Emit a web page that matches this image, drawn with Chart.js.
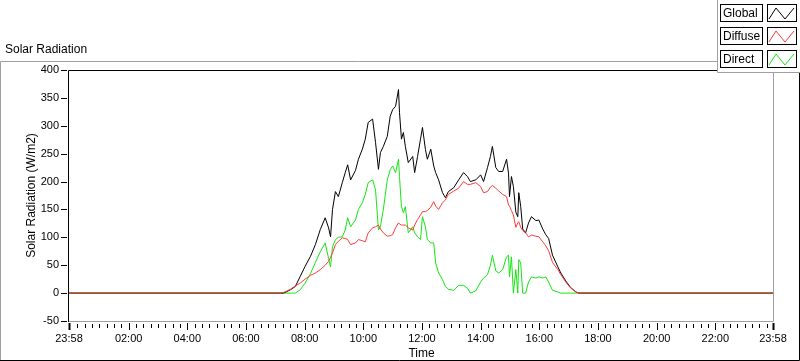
<!DOCTYPE html>
<html>
<head>
<meta charset="utf-8">
<script src="https://cdn.jsdelivr.net/npm/chart.js@4.4.1/dist/chart.umd.min.js"></script>
<style>
html, body { margin: 0; padding: 0; background: #fff; }
#wrap { width: 800px; height: 361px; position: relative; }
</style>
</head>
<body>
<div id="wrap"><canvas id="solar"></canvas></div>
<script>
// time of day for each reading (first one is 23:58 of the day before)
const times = ["23:58",
  "07:10","07:16","07:22","07:31","07:41","07:51","08:01","08:12","08:22","08:32",
  "08:42","08:49","08:53","08:57","09:03","09:09","09:17","09:23","09:28","09:34",
  "09:44","09:50","09:58","10:04","10:10","10:19","10:25","10:31","10:35","10:41",
  "10:49","10:55","11:00","11:06","11:12","11:14","11:18","11:22","11:26","11:32",
  "11:41","11:45","11:51","11:57","12:01","12:07","12:11","12:18","12:24","12:28",
  "12:34","12:42","12:48","12:54","13:05","13:15","13:25","13:33","13:39","13:50",
  "14:00","14:06","14:14","14:20","14:24","14:31","14:37","14:45","14:53","14:57",
  "14:59","15:03","15:07","15:12","15:16","15:18","15:22","15:26","15:32","15:38",
  "15:44","15:53","15:59","16:07","16:13","16:19","16:27","16:38","16:44","16:54",
  "17:04","17:15","17:21",
  "23:58"];

const globalRad = [0,
  0,0,2,6,12,30,48,66,87,114,
  135,117,101,150,182,173,198,216,230,203,
  220,240,258,276,306,312,270,222,252,263,
  281,317,329,335,365,324,276,288,263,234,
  245,216,245,276,297,258,240,258,228,216,
  203,180,171,182,189,203,216,209,200,203,
  212,200,225,245,263,225,218,218,240,215,
  173,209,191,145,137,180,155,115,108,126,
  137,130,131,115,105,98,68,47,36,22,
  10,2,0,
  0];

const diffuseRad = [0,
  0,1,3,7,13,18,25,32,36,42,
  50,57,64,72,87,93,99,98,96,87,
  90,96,94,92,108,117,119,122,115,108,
  102,103,105,117,126,124,122,122,122,117,
  113,122,132,140,146,146,148,154,164,156,
  150,162,167,177,183,188,200,195,195,198,
  191,180,182,190,193,188,183,177,173,158,
  156,148,140,118,126,128,118,112,108,101,
  104,102,101,92,85,76,55,42,33,20,
  9,2,0,
  0];

const directRad = [0,
  0,0,0,0,0,6,18,35,55,74,
  90,62,47,83,96,100,101,113,135,119,
  131,150,162,177,198,203,185,113,119,150,
  203,221,228,216,240,209,155,144,155,108,
  119,108,101,96,137,119,96,90,90,54,
  36,24,12,7,5,14,14,9,0,4,
  20,27,33,50,68,40,36,42,65,68,
  29,65,0,42,0,60,54,0,0,20,
  29,27,29,27,29,20,5,2,0,0,
  0,0,0,
  0];

const yTicks = [-50, 0, 50, 100, 150, 200, 250, 300, 350, 400];
const xTickMinutes = [-2, 120, 240, 360, 480, 600, 720, 840, 960, 1080, 1200, 1320, 1438];
const xTickLabels = ["23:58","02:00","04:00","06:00","08:00","10:00","12:00","14:00","16:00","18:00","20:00","22:00","23:58"];

function toMinutes(t, i) {
  const p = t.split(":");
  let m = +p[0] * 60 + +p[1];
  if (i === 0 && m > 720) m -= 1440;
  return m;
}
const pts = vals => vals.map((v, i) => ({ x: toMinutes(times[i], i), y: v }));

const font = "'Liberation Sans', Arial, sans-serif";

const frame = {
  id: "frame",
  beforeDraw(chart) {
    const ctx = chart.ctx;
    ctx.save();
    ctx.fillStyle = "#fff";
    ctx.fillRect(0, 0, chart.width, chart.height);
    ctx.restore();
  },
  afterDraw(chart) {
    const ctx = chart.ctx, a = chart.chartArea;
    const xs = chart.scales.x, ys = chart.scales.y;
    ctx.save();
    ctx.lineWidth = 1;

    // outer panel
    ctx.strokeStyle = "#a0a0a0";
    ctx.beginPath();
    ctx.moveTo(717, 61.5); ctx.lineTo(0.5, 61.5); ctx.lineTo(0.5, 361);
    ctx.stroke();
    ctx.strokeStyle = "#000";
    ctx.beginPath();
    ctx.moveTo(0, 360.5); ctx.lineTo(799.5, 360.5); ctx.lineTo(799.5, 72);
    ctx.stroke();

    // plot frame
    ctx.strokeStyle = "#a0a0a0";
    ctx.beginPath();
    ctx.moveTo(a.left, a.bottom + 0.5); ctx.lineTo(a.right + 0.5, a.bottom + 0.5); ctx.lineTo(a.right + 0.5, a.top);
    ctx.stroke();
    ctx.strokeStyle = "#000";
    ctx.beginPath();
    ctx.moveTo(a.right + 0.5, a.top + 0.5); ctx.lineTo(a.left - 0.5, a.top + 0.5); ctx.lineTo(a.left - 0.5, a.bottom + 1);
    ctx.stroke();

    // y ticks
    ys.ticks.forEach(t => {
      const py = Math.round(ys.getPixelForValue(t.value)) + 0.5;
      ctx.beginPath(); ctx.moveTo(a.left - 8, py); ctx.lineTo(a.left - 2, py); ctx.stroke();
    });
    // x ticks: major every 2h, minor every 15 min
    for (let m = 15; m < 1438; m += 15) {
      if (m % 120 === 0) continue;
      const px = Math.round(xs.getPixelForValue(m)) + 0.5;
      ctx.beginPath(); ctx.moveTo(px, a.bottom + 3); ctx.lineTo(px, a.bottom + 7); ctx.stroke();
    }
    xTickMinutes.forEach((m, i) => {
      const px = Math.round(xs.getPixelForValue(m)) + 0.5;
      ctx.lineWidth = (i === 0 || i === xTickMinutes.length - 1) ? 2 : 1;
      ctx.beginPath(); ctx.moveTo(px, a.bottom + 2); ctx.lineTo(px, a.bottom + 9); ctx.stroke();
    });
    ctx.lineWidth = 1;

    // titles
    ctx.fillStyle = "#000";
    ctx.font = "12px " + font;
    ctx.textBaseline = "middle";
    ctx.textAlign = "left";
    ctx.fillText("Solar Radiation", 5, 50);
    ctx.textAlign = "center";
    ctx.fillText("Time", (a.left + a.right) / 2 + 0.5, 354);
    ctx.save();
    ctx.translate(32, (a.top + a.bottom) / 2);
    ctx.rotate(-Math.PI / 2);
    ctx.fillText("Solar Radiation (W/m2)", 0, 0);
    ctx.restore();

    // legend panel
    ctx.fillStyle = "#fff";
    ctx.fillRect(718, 0, 82, 72);
    ctx.strokeStyle = "#a0a0a0";
    ctx.beginPath(); ctx.moveTo(717.5, 0); ctx.lineTo(717.5, 72.5); ctx.lineTo(800, 72.5); ctx.stroke();
    chart.data.datasets.forEach((ds, i) => {
      const top = 4 + i * 23;
      ctx.strokeStyle = "#000";
      ctx.strokeRect(720.5, top + 0.5, 42, 17);
      ctx.strokeRect(767.5, top + 0.5, 29, 17);
      ctx.fillStyle = "#000";
      ctx.textAlign = "left";
      ctx.fillText(ds.label, 723, top + 9.5);
      ctx.strokeStyle = ds.borderColor;
      ctx.beginPath();
      ctx.moveTo(769, top + 15); ctx.lineTo(776, top + 4); ctx.lineTo(785, top + 15); ctx.lineTo(794, top + 4);
      ctx.stroke();
    });
    ctx.restore();
  }
};

new Chart(document.getElementById("solar"), {
  type: "line",
  data: {
    datasets: [
      { label: "Global", data: pts(globalRad), borderColor: "#000000", order: 1 },
      { label: "Diffuse", data: pts(diffuseRad), borderColor: "#ff3c3c", order: 0 },
      { label: "Direct", data: pts(directRad), borderColor: "#14e614", order: 2 }
    ]
  },
  options: {
    responsive: true,
    maintainAspectRatio: false,
    animation: false,
    events: [],
    layout: { padding: { left: 0, right: 27, top: 70, bottom: 0 } },
    elements: {
      line: { borderWidth: 1, tension: 0 },
      point: { radius: 0 }
    },
    plugins: { legend: { display: false }, tooltip: { enabled: false } },
    scales: {
      x: {
        type: "linear",
        min: -2,
        max: 1438,
        border: { display: false },
        grid: { display: false },
        afterBuildTicks: s => { s.ticks = xTickMinutes.map(v => ({ value: v })); },
        afterFit: s => { s.height = 40; },
        ticks: {
          autoSkip: false,
          maxRotation: 0,
          padding: 3,
          color: "#000",
          font: { family: font, size: 11 },
          callback: (v, i) => xTickLabels[i]
        }
      },
      y: {
        min: -50,
        max: 400,
        border: { display: false },
        grid: { display: false },
        afterBuildTicks: s => { s.ticks = yTicks.map(v => ({ value: v })); },
        afterFit: s => { s.width = 69; },
        ticks: {
          padding: 2,
          color: "#000",
          font: { family: font, size: 11 }
        }
      }
    }
  },
  plugins: [frame]
});
</script>
</body>
</html>
